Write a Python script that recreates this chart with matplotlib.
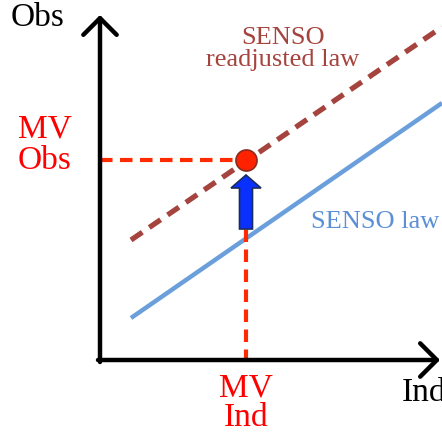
import numpy as np
import matplotlib.pyplot as plt

# conceptual diagram, units roughly in pixels from the axis corner
ind_ends = [31, 342]
senso_law = [42, 257]
senso_readjusted = [120, 333]
mv_ind = 146
mv_obs = 200
arrow_from = 131
arrow_to = 185

plt.rcParams['font.family'] = ['Liberation Serif', 'DejaVu Serif']

fig = plt.figure(figsize=(4.42, 4.36), dpi=100)
ax = fig.add_axes([0, 0, 1, 1])
ax.set_xlim(-100, 342)
ax.set_ylim(-76, 360)
ax.axis('off')

# axes with open arrow heads
ax.annotate('', xy=(0, 345), xytext=(0, -2),
            arrowprops=dict(arrowstyle='->,head_length=0.6,head_width=0.6',
                            lw=3.2, color='black', mutation_scale=20, shrinkA=0, shrinkB=0))
ax.annotate('', xy=(340, 0), xytext=(-2, 0),
            arrowprops=dict(arrowstyle='->,head_length=0.6,head_width=0.6',
                            lw=3.2, color='black', mutation_scale=20, shrinkA=0, shrinkB=0))

# laws
ax.plot(ind_ends, senso_law, color='#6a9fdc', lw=3.2, solid_capstyle='butt')
ax.plot(ind_ends, senso_readjusted, color='#a5443f', lw=3.8, ls=(0, (2.6, 1.6)))

# measured value guides
ax.plot([0, mv_ind], [mv_obs, mv_obs], color='#ff2a00', lw=3, ls=(0, (3, 1.8)))
ax.plot([mv_ind, mv_ind], [-2, arrow_from], color='#ff2a00', lw=3, ls=(0, (3, 1.8)))

# shift arrow
ax.arrow(mv_ind, arrow_from, 0, arrow_to - arrow_from, width=13, head_width=30,
         head_length=13, length_includes_head=True, fc='#0a30ff', ec='#1b2b5e', lw=1.2, zorder=4)

ax.scatter([mv_ind], [mv_obs], s=230, color='#ff2200', edgecolors='#8b2a20', linewidths=1.2, zorder=5)

# labels
ax.text(-62, 342, 'Obs', fontsize=24, ha='center', va='center')
ax.text(-55, 215, 'MV\nObs', fontsize=24, color='#ff0000', ha='center', va='center', linespacing=1.02)
ax.text(mv_ind, -43, 'MV\nInd', fontsize=24, color='#ff0000', ha='center', va='center', linespacing=0.98)
ax.text(302, -33, 'Ind', fontsize=24, ha='left', va='center')
ax.text(183, 311, 'SENSO\nreadjusted law', fontsize=19, color='#a5443f', ha='center', va='center', linespacing=0.95)
ax.text(275, 138, 'SENSO law', fontsize=19, color='#5b8fd6', ha='center', va='center')

fig.savefig('out.png', dpi=100)
